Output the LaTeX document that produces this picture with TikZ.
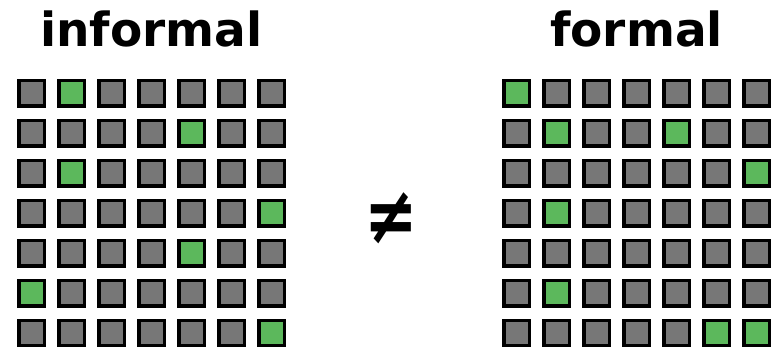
\documentclass[tikz,border=0pt]{standalone}
\usepackage{fontspec}
\setmainfont{DejaVu Sans}
\usepackage{tikz}
\usetikzlibrary{positioning}
\definecolor{cellgray}{RGB}{119, 119, 119}
\definecolor{cellgreen}{RGB}{92, 184, 92}

\begin{document}
\begin{tikzpicture}[
  x=1pt, y=-1pt,
  cell/.style={draw=black, line width=3.5pt, fill=cellgray, minimum size=25.5pt, inner sep=0pt},
  lit/.style={fill=cellgreen},
  title/.style={font=\fontsize{47}{47}\selectfont\bfseries, anchor=base},
  % green cells of each grid (column-row)
  inf-1-0/.style=lit, inf-4-1/.style=lit, inf-1-2/.style=lit, inf-6-3/.style=lit,
  inf-4-4/.style=lit, inf-0-5/.style=lit, inf-6-6/.style=lit,
  frm-0-0/.style=lit, frm-1-1/.style=lit, frm-4-1/.style=lit, frm-6-2/.style=lit,
  frm-1-3/.style=lit, frm-1-5/.style=lit, frm-5-6/.style=lit, frm-6-6/.style=lit
]
  \useasboundingbox (0,0) rectangle (780,347);

  % Titles
  \node[title] (infTitle) at (151.5,47) {informal};
  \node[title] (frmTitle) at (636.5,47) {formal};

  % Left grid
  \foreach \r in {0,...,6}
    \foreach \c in {0,...,6}
      \node[cell, inf-\c-\r/.try] (inf-\c-\r) at (31.5+40*\c, 93.5+40*\r) {};

  % Right grid
  \foreach \r in {0,...,6}
    \foreach \c in {0,...,6}
      \node[cell, frm-\c-\r/.try] (frm-\c-\r) at (516.5+40*\c, 93.5+40*\r) {};

  % Not equal
  \node[font=\fontsize{64}{64}\selectfont\bfseries, yscale=1.26, transform shape] (neq) at (391,218) {≠};
\end{tikzpicture}
\end{document}
